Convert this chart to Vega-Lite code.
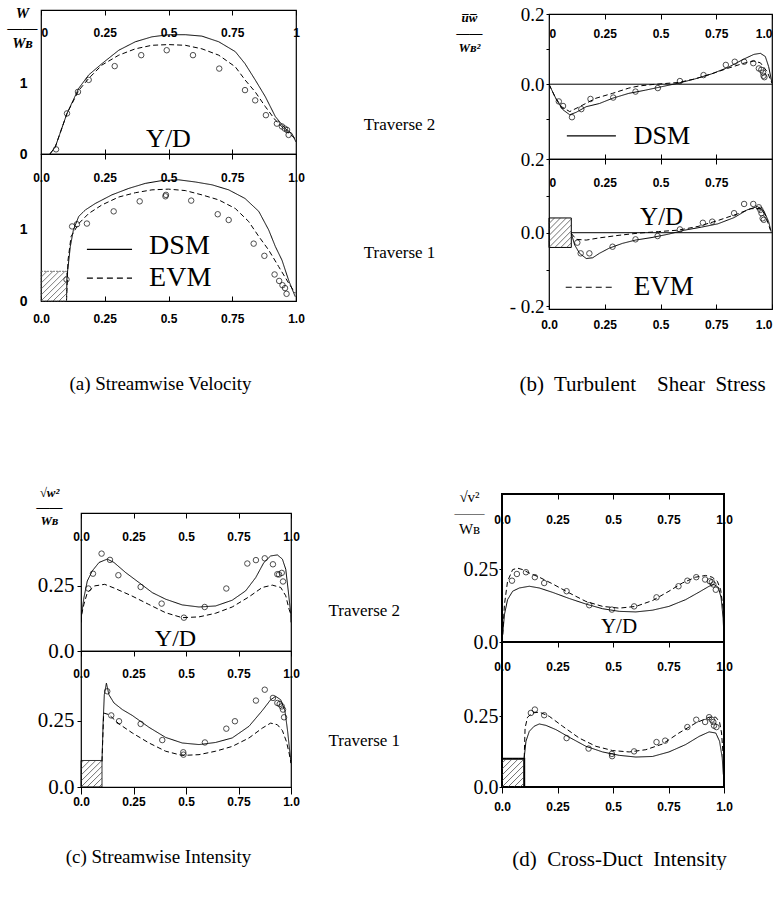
{
"$schema": "https://vega.github.io/schema/vega-lite/v6.json",
"padding": {"left": 5, "top": 4, "right": 0, "bottom": 0},
"background": "white",
"config": {"axis": {"labelColor": "black", "tickColor": "black", "titleColor": "black", "grid": false, "domain": false, "labelFlush": false}},
"datasets": {
"aT": [
{"m":"DSM","x":0.035,"y":0},{"m":"DSM","x":0.056,"y":0.10},{"m":"DSM","x":0.102,"y":0.575},{"m":"DSM","x":0.148,"y":0.93},{"m":"DSM","x":0.187,"y":1.12},{"m":"DSM","x":0.239,"y":1.28},{"m":"DSM","x":0.305,"y":1.47},{"m":"DSM","x":0.37,"y":1.59},{"m":"DSM","x":0.435,"y":1.66},{"m":"DSM","x":0.50,"y":1.69},{"m":"DSM","x":0.566,"y":1.69},{"m":"DSM","x":0.631,"y":1.67},{"m":"DSM","x":0.697,"y":1.59},{"m":"DSM","x":0.762,"y":1.45},{"m":"DSM","x":0.80,"y":1.28},{"m":"DSM","x":0.84,"y":1.05},{"m":"DSM","x":0.88,"y":0.81},{"m":"DSM","x":0.919,"y":0.53},{"m":"DSM","x":0.958,"y":0.36},{"m":"DSM","x":0.984,"y":0.29},{"m":"DSM","x":1.0,"y":0.17},
{"m":"EVM","x":0.035,"y":0},{"m":"EVM","x":0.056,"y":0.10},{"m":"EVM","x":0.102,"y":0.575},{"m":"EVM","x":0.148,"y":0.90},{"m":"EVM","x":0.187,"y":1.07},{"m":"EVM","x":0.239,"y":1.26},{"m":"EVM","x":0.305,"y":1.40},{"m":"EVM","x":0.37,"y":1.49},{"m":"EVM","x":0.435,"y":1.54},{"m":"EVM","x":0.50,"y":1.55},{"m":"EVM","x":0.566,"y":1.54},{"m":"EVM","x":0.631,"y":1.49},{"m":"EVM","x":0.697,"y":1.40},{"m":"EVM","x":0.762,"y":1.235},{"m":"EVM","x":0.80,"y":1.05},{"m":"EVM","x":0.84,"y":0.88},{"m":"EVM","x":0.88,"y":0.67},{"m":"EVM","x":0.919,"y":0.48},{"m":"EVM","x":0.958,"y":0.34},{"m":"EVM","x":0.996,"y":0.22},
{"m":"EXP","x":0.059,"y":0.066},{"m":"EXP","x":0.102,"y":0.575},{"m":"EXP","x":0.145,"y":0.88},{"m":"EXP","x":0.187,"y":1.05},{"m":"EXP","x":0.289,"y":1.245},{"m":"EXP","x":0.393,"y":1.40},{"m":"EXP","x":0.493,"y":1.47},{"m":"EXP","x":0.596,"y":1.40},{"m":"EXP","x":0.699,"y":1.21},{"m":"EXP","x":0.80,"y":0.905},{"m":"EXP","x":0.84,"y":0.76},{"m":"EXP","x":0.882,"y":0.55},{"m":"EXP","x":0.925,"y":0.43},{"m":"EXP","x":0.945,"y":0.39},{"m":"EXP","x":0.956,"y":0.36},{"m":"EXP","x":0.965,"y":0.34},{"m":"EXP","x":0.971,"y":0.27}
],
"aB": [
{"m":"DSM","x":0.10,"y":0},{"m":"DSM","x":0.102,"y":0.34},{"m":"DSM","x":0.115,"y":0.76},{"m":"DSM","x":0.127,"y":0.99},{"m":"DSM","x":0.148,"y":1.18},{"m":"DSM","x":0.174,"y":1.27},{"m":"DSM","x":0.213,"y":1.36},{"m":"DSM","x":0.278,"y":1.48},{"m":"DSM","x":0.344,"y":1.57},{"m":"DSM","x":0.409,"y":1.64},{"m":"DSM","x":0.475,"y":1.68},{"m":"DSM","x":0.54,"y":1.69},{"m":"DSM","x":0.605,"y":1.66},{"m":"DSM","x":0.671,"y":1.62},{"m":"DSM","x":0.736,"y":1.55},{"m":"DSM","x":0.80,"y":1.43},{"m":"DSM","x":0.854,"y":1.25},{"m":"DSM","x":0.893,"y":0.99},{"m":"DSM","x":0.919,"y":0.76},{"m":"DSM","x":0.945,"y":0.57},{"m":"DSM","x":0.971,"y":0.29},{"m":"DSM","x":0.997,"y":0.06},
{"m":"EVM","x":0.10,"y":0},{"m":"EVM","x":0.106,"y":0.57},{"m":"EVM","x":0.118,"y":0.90},{"m":"EVM","x":0.148,"y":1.08},{"m":"EVM","x":0.187,"y":1.22},{"m":"EVM","x":0.239,"y":1.34},{"m":"EVM","x":0.305,"y":1.45},{"m":"EVM","x":0.37,"y":1.51},{"m":"EVM","x":0.435,"y":1.55},{"m":"EVM","x":0.50,"y":1.56},{"m":"EVM","x":0.566,"y":1.54},{"m":"EVM","x":0.631,"y":1.48},{"m":"EVM","x":0.697,"y":1.41},{"m":"EVM","x":0.762,"y":1.29},{"m":"EVM","x":0.814,"y":1.11},{"m":"EVM","x":0.854,"y":0.90},{"m":"EVM","x":0.893,"y":0.71},{"m":"EVM","x":0.932,"y":0.48},{"m":"EVM","x":0.971,"y":0.25},{"m":"EVM","x":0.997,"y":0.11},
{"m":"EXP","x":0.1,"y":0.3},{"m":"EXP","x":0.122,"y":1.04},{"m":"EXP","x":0.141,"y":1.07},{"m":"EXP","x":0.18,"y":1.08},{"m":"EXP","x":0.285,"y":1.25},{"m":"EXP","x":0.387,"y":1.39},{"m":"EXP","x":0.488,"y":1.46},{"m":"EXP","x":0.49,"y":1.48},{"m":"EXP","x":0.589,"y":1.40},{"m":"EXP","x":0.693,"y":1.21},{"m":"EXP","x":0.736,"y":1.13},{"m":"EXP","x":0.834,"y":0.80},{"m":"EXP","x":0.876,"y":0.63},{"m":"EXP","x":0.916,"y":0.37},{"m":"EXP","x":0.934,"y":0.28},{"m":"EXP","x":0.947,"y":0.22},{"m":"EXP","x":0.957,"y":0.18},{"m":"EXP","x":0.963,"y":0.10}
],
"bT": [
{"m":"DSM","x":0,"y":0},{"m":"DSM","x":0.034,"y":-0.045},{"m":"DSM","x":0.063,"y":-0.073},{"m":"DSM","x":0.093,"y":-0.087},{"m":"DSM","x":0.122,"y":-0.08},{"m":"DSM","x":0.167,"y":-0.064},{"m":"DSM","x":0.226,"y":-0.055},{"m":"DSM","x":0.285,"y":-0.04},{"m":"DSM","x":0.358,"y":-0.026},{"m":"DSM","x":0.432,"y":-0.017},{"m":"DSM","x":0.506,"y":-0.007},{"m":"DSM","x":0.58,"y":0.003},{"m":"DSM","x":0.654,"y":0.015},{"m":"DSM","x":0.727,"y":0.029},{"m":"DSM","x":0.80,"y":0.047},{"m":"DSM","x":0.875,"y":0.072},{"m":"DSM","x":0.919,"y":0.085},{"m":"DSM","x":0.948,"y":0.088},{"m":"DSM","x":0.97,"y":0.079},{"m":"DSM","x":0.985,"y":0.05},{"m":"DSM","x":1.0,"y":0.003},
{"m":"EVM","x":0,"y":0},{"m":"EVM","x":0.026,"y":-0.035},{"m":"EVM","x":0.056,"y":-0.064},{"m":"EVM","x":0.093,"y":-0.078},{"m":"EVM","x":0.137,"y":-0.064},{"m":"EVM","x":0.21,"y":-0.04},{"m":"EVM","x":0.285,"y":-0.026},{"m":"EVM","x":0.358,"y":-0.011},{"m":"EVM","x":0.403,"y":-0.005},{"m":"EVM","x":0.462,"y":-0.001},{"m":"EVM","x":0.58,"y":0.005},{"m":"EVM","x":0.654,"y":0.015},{"m":"EVM","x":0.727,"y":0.029},{"m":"EVM","x":0.80,"y":0.045},{"m":"EVM","x":0.875,"y":0.06},{"m":"EVM","x":0.919,"y":0.066},{"m":"EVM","x":0.948,"y":0.061},{"m":"EVM","x":0.978,"y":0.036},{"m":"EVM","x":1.0,"y":0.003},
{"m":"EXP","x":0.044,"y":-0.049},{"m":"EXP","x":0.063,"y":-0.062},{"m":"EXP","x":0.103,"y":-0.094},{"m":"EXP","x":0.145,"y":-0.071},{"m":"EXP","x":0.186,"y":-0.042},{"m":"EXP","x":0.288,"y":-0.038},{"m":"EXP","x":0.388,"y":-0.021},{"m":"EXP","x":0.488,"y":-0.011},{"m":"EXP","x":0.587,"y":0.009},{"m":"EXP","x":0.693,"y":0.026},{"m":"EXP","x":0.793,"y":0.055},{"m":"EXP","x":0.833,"y":0.064},{"m":"EXP","x":0.875,"y":0.064},{"m":"EXP","x":0.916,"y":0.06},{"m":"EXP","x":0.941,"y":0.045},{"m":"EXP","x":0.952,"y":0.041},{"m":"EXP","x":0.96,"y":0.033},{"m":"EXP","x":0.962,"y":0.024},{"m":"EXP","x":0.966,"y":0.02}
],
"bB": [
{"m":"DSM","x":0.1,"y":-0.002},{"m":"DSM","x":0.115,"y":-0.033},{"m":"DSM","x":0.137,"y":-0.056},{"m":"DSM","x":0.167,"y":-0.07},{"m":"DSM","x":0.196,"y":-0.068},{"m":"DSM","x":0.226,"y":-0.056},{"m":"DSM","x":0.27,"y":-0.042},{"m":"DSM","x":0.329,"y":-0.029},{"m":"DSM","x":0.388,"y":-0.02},{"m":"DSM","x":0.462,"y":-0.013},{"m":"DSM","x":0.535,"y":-0.004},{"m":"DSM","x":0.609,"y":0.007},{"m":"DSM","x":0.683,"y":0.015},{"m":"DSM","x":0.757,"y":0.024},{"m":"DSM","x":0.83,"y":0.041},{"m":"DSM","x":0.889,"y":0.062},{"m":"DSM","x":0.934,"y":0.071},{"m":"DSM","x":0.963,"y":0.06},{"m":"DSM","x":0.985,"y":0.03},{"m":"DSM","x":0.996,"y":0.003},
{"m":"EVM","x":0.1,"y":-0.002},{"m":"EVM","x":0.122,"y":-0.018},{"m":"EVM","x":0.167,"y":-0.02},{"m":"EVM","x":0.226,"y":-0.014},{"m":"EVM","x":0.314,"y":-0.007},{"m":"EVM","x":0.403,"y":-0.001},{"m":"EVM","x":0.491,"y":0.003},{"m":"EVM","x":0.58,"y":0.007},{"m":"EVM","x":0.668,"y":0.017},{"m":"EVM","x":0.757,"y":0.033},{"m":"EVM","x":0.845,"y":0.051},{"m":"EVM","x":0.904,"y":0.065},{"m":"EVM","x":0.948,"y":0.066},{"m":"EVM","x":0.97,"y":0.048},{"m":"EVM","x":0.993,"y":0.007},
{"m":"EXP","x":0.127,"y":-0.027},{"m":"EXP","x":0.142,"y":-0.056},{"m":"EXP","x":0.181,"y":-0.056},{"m":"EXP","x":0.285,"y":-0.038},{"m":"EXP","x":0.388,"y":-0.018},{"m":"EXP","x":0.487,"y":-0.009},{"m":"EXP","x":0.587,"y":0.009},{"m":"EXP","x":0.69,"y":0.027},{"m":"EXP","x":0.732,"y":0.03},{"m":"EXP","x":0.83,"y":0.053},{"m":"EXP","x":0.875,"y":0.078},{"m":"EXP","x":0.916,"y":0.078},{"m":"EXP","x":0.941,"y":0.069},{"m":"EXP","x":0.948,"y":0.062},{"m":"EXP","x":0.953,"y":0.053},{"m":"EXP","x":0.958,"y":0.039},{"m":"EXP","x":0.963,"y":0.035}
],
"cT": [
{"m":"DSM","x":0,"y":0.11},{"m":"DSM","x":0.003,"y":0.141},{"m":"DSM","x":0.014,"y":0.205},{"m":"DSM","x":0.03,"y":0.269},{"m":"DSM","x":0.054,"y":0.308},{"m":"DSM","x":0.086,"y":0.34},{"m":"DSM","x":0.125,"y":0.353},{"m":"DSM","x":0.157,"y":0.34},{"m":"DSM","x":0.213,"y":0.301},{"m":"DSM","x":0.276,"y":0.263},{"m":"DSM","x":0.34,"y":0.224},{"m":"DSM","x":0.403,"y":0.199},{"m":"DSM","x":0.482,"y":0.177},{"m":"DSM","x":0.562,"y":0.169},{"m":"DSM","x":0.641,"y":0.173},{"m":"DSM","x":0.72,"y":0.195},{"m":"DSM","x":0.784,"y":0.231},{"m":"DSM","x":0.832,"y":0.282},{"m":"DSM","x":0.871,"y":0.34},{"m":"DSM","x":0.903,"y":0.365},{"m":"DSM","x":0.935,"y":0.369},{"m":"DSM","x":0.959,"y":0.353},{"m":"DSM","x":0.975,"y":0.314},{"m":"DSM","x":0.987,"y":0.231},{"m":"DSM","x":0.999,"y":0.141},{"m":"DSM","x":1.0,"y":0.11},
{"m":"EVM","x":0,"y":0.11},{"m":"EVM","x":0.003,"y":0.141},{"m":"EVM","x":0.014,"y":0.18},{"m":"EVM","x":0.03,"y":0.224},{"m":"EVM","x":0.065,"y":0.25},{"m":"EVM","x":0.113,"y":0.256},{"m":"EVM","x":0.16,"y":0.241},{"m":"EVM","x":0.241,"y":0.212},{"m":"EVM","x":0.32,"y":0.18},{"m":"EVM","x":0.403,"y":0.147},{"m":"EVM","x":0.482,"y":0.128},{"m":"EVM","x":0.562,"y":0.131},{"m":"EVM","x":0.641,"y":0.145},{"m":"EVM","x":0.72,"y":0.169},{"m":"EVM","x":0.80,"y":0.208},{"m":"EVM","x":0.863,"y":0.244},{"m":"EVM","x":0.911,"y":0.253},{"m":"EVM","x":0.951,"y":0.244},{"m":"EVM","x":0.975,"y":0.212},{"m":"EVM","x":0.991,"y":0.16},{"m":"EVM","x":0.999,"y":0.141},
{"m":"EXP","x":0.035,"y":0.24},{"m":"EXP","x":0.057,"y":0.297},{"m":"EXP","x":0.098,"y":0.374},{"m":"EXP","x":0.138,"y":0.35},{"m":"EXP","x":0.178,"y":0.291},{"m":"EXP","x":0.284,"y":0.246},{"m":"EXP","x":0.384,"y":0.182},{"m":"EXP","x":0.49,"y":0.128},{"m":"EXP","x":0.589,"y":0.169},{"m":"EXP","x":0.692,"y":0.24},{"m":"EXP","x":0.792,"y":0.336},{"m":"EXP","x":0.833,"y":0.349},{"m":"EXP","x":0.875,"y":0.356},{"m":"EXP","x":0.914,"y":0.333},{"m":"EXP","x":0.935,"y":0.295},{"m":"EXP","x":0.943,"y":0.294},{"m":"EXP","x":0.956,"y":0.3},{"m":"EXP","x":0.962,"y":0.267}
],
"cB": [
{"m":"DSM","x":0.1,"y":0.097},{"m":"DSM","x":0.105,"y":0.235},{"m":"DSM","x":0.111,"y":0.348},{"m":"DSM","x":0.121,"y":0.392},{"m":"DSM","x":0.133,"y":0.348},{"m":"DSM","x":0.157,"y":0.317},{"m":"DSM","x":0.197,"y":0.292},{"m":"DSM","x":0.244,"y":0.27},{"m":"DSM","x":0.324,"y":0.225},{"m":"DSM","x":0.403,"y":0.187},{"m":"DSM","x":0.482,"y":0.166},{"m":"DSM","x":0.562,"y":0.16},{"m":"DSM","x":0.641,"y":0.168},{"m":"DSM","x":0.72,"y":0.185},{"m":"DSM","x":0.80,"y":0.229},{"m":"DSM","x":0.863,"y":0.288},{"m":"DSM","x":0.903,"y":0.329},{"m":"DSM","x":0.927,"y":0.342},{"m":"DSM","x":0.951,"y":0.329},{"m":"DSM","x":0.971,"y":0.288},{"m":"DSM","x":0.984,"y":0.21},{"m":"DSM","x":0.995,"y":0.128},{"m":"DSM","x":1.0,"y":0.09},
{"m":"EVM","x":0.1,"y":0.097},{"m":"EVM","x":0.108,"y":0.279},{"m":"EVM","x":0.133,"y":0.273},{"m":"EVM","x":0.181,"y":0.238},{"m":"EVM","x":0.244,"y":0.204},{"m":"EVM","x":0.324,"y":0.166},{"m":"EVM","x":0.403,"y":0.135},{"m":"EVM","x":0.482,"y":0.119},{"m":"EVM","x":0.562,"y":0.122},{"m":"EVM","x":0.641,"y":0.135},{"m":"EVM","x":0.72,"y":0.153},{"m":"EVM","x":0.80,"y":0.185},{"m":"EVM","x":0.863,"y":0.222},{"m":"EVM","x":0.903,"y":0.241},{"m":"EVM","x":0.935,"y":0.235},{"m":"EVM","x":0.959,"y":0.213},{"m":"EVM","x":0.978,"y":0.172},{"m":"EVM","x":0.991,"y":0.128},{"m":"EVM","x":1.0,"y":0.09},
{"m":"EXP","x":0.125,"y":0.361},{"m":"EXP","x":0.144,"y":0.27},{"m":"EXP","x":0.181,"y":0.248},{"m":"EXP","x":0.284,"y":0.238},{"m":"EXP","x":0.387,"y":0.177},{"m":"EXP","x":0.487,"y":0.131},{"m":"EXP","x":0.488,"y":0.122},{"m":"EXP","x":0.59,"y":0.168},{"m":"EXP","x":0.692,"y":0.22},{"m":"EXP","x":0.733,"y":0.248},{"m":"EXP","x":0.833,"y":0.326},{"m":"EXP","x":0.875,"y":0.367},{"m":"EXP","x":0.914,"y":0.336},{"m":"EXP","x":0.935,"y":0.317},{"m":"EXP","x":0.946,"y":0.313},{"m":"EXP","x":0.956,"y":0.304},{"m":"EXP","x":0.962,"y":0.292},{"m":"EXP","x":0.967,"y":0.263}
],
"dT": [
{"m":"DSM","x":0.003,"y":0.025},{"m":"DSM","x":0.011,"y":0.094},{"m":"DSM","x":0.025,"y":0.145},{"m":"DSM","x":0.048,"y":0.174},{"m":"DSM","x":0.078,"y":0.185},{"m":"DSM","x":0.123,"y":0.191},{"m":"DSM","x":0.168,"y":0.185},{"m":"DSM","x":0.228,"y":0.17},{"m":"DSM","x":0.303,"y":0.149},{"m":"DSM","x":0.378,"y":0.13},{"m":"DSM","x":0.453,"y":0.114},{"m":"DSM","x":0.528,"y":0.105},{"m":"DSM","x":0.603,"y":0.103},{"m":"DSM","x":0.678,"y":0.109},{"m":"DSM","x":0.752,"y":0.122},{"m":"DSM","x":0.827,"y":0.145},{"m":"DSM","x":0.888,"y":0.171},{"m":"DSM","x":0.933,"y":0.191},{"m":"DSM","x":0.955,"y":0.197},{"m":"DSM","x":0.975,"y":0.187},{"m":"DSM","x":0.987,"y":0.151},{"m":"DSM","x":0.996,"y":0.082},{"m":"DSM","x":1.0,"y":0.014},
{"m":"EVM","x":0.003,"y":0.025},{"m":"EVM","x":0.011,"y":0.128},{"m":"EVM","x":0.025,"y":0.208},{"m":"EVM","x":0.048,"y":0.248},{"m":"EVM","x":0.07,"y":0.253},{"m":"EVM","x":0.093,"y":0.248},{"m":"EVM","x":0.123,"y":0.236},{"m":"EVM","x":0.168,"y":0.222},{"m":"EVM","x":0.228,"y":0.199},{"m":"EVM","x":0.303,"y":0.168},{"m":"EVM","x":0.378,"y":0.139},{"m":"EVM","x":0.453,"y":0.122},{"m":"EVM","x":0.528,"y":0.116},{"m":"EVM","x":0.603,"y":0.122},{"m":"EVM","x":0.678,"y":0.142},{"m":"EVM","x":0.752,"y":0.174},{"m":"EVM","x":0.812,"y":0.202},{"m":"EVM","x":0.872,"y":0.222},{"m":"EVM","x":0.917,"y":0.228},{"m":"EVM","x":0.947,"y":0.222},{"m":"EVM","x":0.97,"y":0.208},{"m":"EVM","x":0.985,"y":0.179},{"m":"EVM","x":0.996,"y":0.116},{"m":"EVM","x":1.0,"y":0.037},
{"m":"EXP","x":0.045,"y":0.21},{"m":"EXP","x":0.067,"y":0.233},{"m":"EXP","x":0.108,"y":0.239},{"m":"EXP","x":0.148,"y":0.222},{"m":"EXP","x":0.19,"y":0.202},{"m":"EXP","x":0.291,"y":0.174},{"m":"EXP","x":0.393,"y":0.126},{"m":"EXP","x":0.495,"y":0.111},{"m":"EXP","x":0.595,"y":0.122},{"m":"EXP","x":0.696,"y":0.153},{"m":"EXP","x":0.795,"y":0.191},{"m":"EXP","x":0.835,"y":0.21},{"m":"EXP","x":0.875,"y":0.222},{"m":"EXP","x":0.915,"y":0.214},{"m":"EXP","x":0.936,"y":0.208},{"m":"EXP","x":0.945,"y":0.205},{"m":"EXP","x":0.952,"y":0.197},{"m":"EXP","x":0.963,"y":0.179}
],
"dB": [
{"m":"DSM","x":0.1,"y":0.103},{"m":"DSM","x":0.108,"y":0.162},{"m":"DSM","x":0.123,"y":0.197},{"m":"DSM","x":0.145,"y":0.215},{"m":"DSM","x":0.168,"y":0.223},{"m":"DSM","x":0.198,"y":0.218},{"m":"DSM","x":0.243,"y":0.203},{"m":"DSM","x":0.303,"y":0.176},{"m":"DSM","x":0.378,"y":0.144},{"m":"DSM","x":0.453,"y":0.124},{"m":"DSM","x":0.528,"y":0.112},{"m":"DSM","x":0.603,"y":0.106},{"m":"DSM","x":0.678,"y":0.108},{"m":"DSM","x":0.752,"y":0.124},{"m":"DSM","x":0.827,"y":0.15},{"m":"DSM","x":0.888,"y":0.179},{"m":"DSM","x":0.933,"y":0.195},{"m":"DSM","x":0.963,"y":0.191},{"m":"DSM","x":0.98,"y":0.162},{"m":"DSM","x":0.992,"y":0.103},{"m":"DSM","x":0.997,"y":0.044},
{"m":"EVM","x":0.1,"y":0.103},{"m":"EVM","x":0.104,"y":0.209},{"m":"EVM","x":0.115,"y":0.247},{"m":"EVM","x":0.138,"y":0.262},{"m":"EVM","x":0.168,"y":0.265},{"m":"EVM","x":0.213,"y":0.25},{"m":"EVM","x":0.273,"y":0.215},{"m":"EVM","x":0.348,"y":0.173},{"m":"EVM","x":0.423,"y":0.144},{"m":"EVM","x":0.498,"y":0.129},{"m":"EVM","x":0.573,"y":0.124},{"m":"EVM","x":0.648,"y":0.132},{"m":"EVM","x":0.723,"y":0.152},{"m":"EVM","x":0.797,"y":0.191},{"m":"EVM","x":0.872,"y":0.226},{"m":"EVM","x":0.933,"y":0.247},{"m":"EVM","x":0.963,"y":0.247},{"m":"EVM","x":0.98,"y":0.23},{"m":"EVM","x":0.989,"y":0.191},{"m":"EVM","x":0.997,"y":0.103},
{"m":"EXP","x":0.13,"y":0.262},{"m":"EXP","x":0.148,"y":0.274},{"m":"EXP","x":0.19,"y":0.254},{"m":"EXP","x":0.291,"y":0.173},{"m":"EXP","x":0.39,"y":0.136},{"m":"EXP","x":0.495,"y":0.117},{"m":"EXP","x":0.496,"y":0.109},{"m":"EXP","x":0.595,"y":0.126},{"m":"EXP","x":0.696,"y":0.159},{"m":"EXP","x":0.735,"y":0.164},{"m":"EXP","x":0.835,"y":0.212},{"m":"EXP","x":0.875,"y":0.238},{"m":"EXP","x":0.915,"y":0.23},{"m":"EXP","x":0.933,"y":0.247},{"m":"EXP","x":0.945,"y":0.238},{"m":"EXP","x":0.952,"y":0.23},{"m":"EXP","x":0.955,"y":0.217},{"m":"EXP","x":0.966,"y":0.212}
],
"hA": [{"x":0.0706,"y":0,"x2":0.1,"y2":0.1036},{"x":0.047,"y":0,"x2":0.1,"y2":0.186},{"x":0.0235,"y":0,"x2":0.1,"y2":0.269},{"x":0,"y":0,"x2":0.1,"y2":0.352},{"x":0,"y":0.083,"x2":0.094,"y2":0.414},{"x":0,"y":0.166,"x2":0.0706,"y2":0.414},{"x":0,"y":0.249,"x2":0.047,"y2":0.414},{"x":0,"y":0.331,"x2":0.0235,"y2":0.414}],
"hB": [{"x":0.0796,"y":-0.04,"x2":0.1,"y2":-0.0276},{"x":0.0531,"y":-0.04,"x2":0.1,"y2":-0.0114},{"x":0.0265,"y":-0.04,"x2":0.1,"y2":0.0049},{"x":0,"y":-0.04,"x2":0.1,"y2":0.0211},{"x":0,"y":-0.0238,"x2":0.1,"y2":0.0373},{"x":0,"y":-0.0076,"x2":0.0779,"y2":0.04},{"x":0,"y":0.0086,"x2":0.0513,"y2":0.04},{"x":0,"y":0.0249,"x2":0.0248,"y2":0.04}],
"hC": [{"x":0.0857,"y":0,"x2":0.1,"y2":0.0112},{"x":0.0571,"y":0,"x2":0.1,"y2":0.0336},{"x":0.0286,"y":0,"x2":0.1,"y2":0.056},{"x":0,"y":0,"x2":0.1,"y2":0.0784},{"x":0,"y":0.0224,"x2":0.099,"y2":0.1},{"x":0,"y":0.0448,"x2":0.0705,"y2":0.1},{"x":0,"y":0.0672,"x2":0.0419,"y2":0.1},{"x":0,"y":0.0896,"x2":0.0133,"y2":0.1}],
"hD": [{"x":0.0811,"y":0,"x2":0.1,"y2":0.0148},{"x":0.054,"y":0,"x2":0.1,"y2":0.0359},{"x":0.027,"y":0,"x2":0.1,"y2":0.057},{"x":0,"y":0,"x2":0.1,"y2":0.0782},{"x":0,"y":0.0211,"x2":0.1,"y2":0.0993},{"x":0,"y":0.0423,"x2":0.0739,"y2":0.1},{"x":0,"y":0.0634,"x2":0.0468,"y2":0.1},{"x":0,"y":0.0845,"x2":0.0198,"y2":0.1}]
},
"vconcat": [
{"hconcat": [
 {"width": 1, "height": 1, "view": {"stroke": null}, "data": {"values": []}, "mark": "point"},
 {"vconcat": [
  {"width": 255, "height": 144, "view": {"stroke": "black", "strokeWidth": 1.2}, "data": {"name": "aT"},
   "layer": [
    {"transform": [{"filter": "datum.m != 'EXP'"}], "mark": {"type": "line", "color": "black", "strokeWidth": 1, "clip": true},
     "encoding": {
      "x": {"field": "x", "type": "quantitative", "scale": {"domain": [0, 1], "nice": false, "zero": false},
            "axis": {"orient": "top", "values": [0, 0.25, 0.5, 0.75, 1], "labelExpr": "datum.value==0?'0':datum.value==0.25?'0.25':datum.value==0.5?'0.5':datum.value==0.75?'0.75':'1'", "tickSize": -5, "labelPadding": -24, "labelFont": "Liberation Sans", "labelFontWeight": "bold", "labelFontSize": 12, "title": null,
                     "labelAlign": {"condition": {"test": "datum.value == 0", "value": "left"}, "value": "center"}}},
      "y": {"field": "y", "type": "quantitative", "scale": {"domain": [0, 2.04], "nice": false, "zero": false},
            "axis": {"values": [0, 1], "labelExpr": "datum.value==0?'0':'1'", "ticks": false, "labelPadding": 14, "labelFont": "Liberation Sans", "labelFontWeight": "bold", "labelFontSize": 14,
                     "title": ["W", "——", "Wʙ"], "titleAngle": 0, "titleAlign": "center", "titleBaseline": "top", "titleX": -19, "titleY": -5, "titleFont": "Liberation Serif", "titleFontStyle": "italic", "titleFontWeight": "bold", "titleFontSize": 15, "titleLineHeight": 15}},
      "detail": {"field": "m"},
      "strokeDash": {"field": "m", "type": "nominal", "scale": {"domain": ["DSM", "EVM"], "range": [[1, 0], [5, 3]]}, "legend": null}}},
    {"transform": [{"filter": "datum.m == 'EXP'"}], "mark": {"type": "point", "shape": "circle", "filled": false, "color": "black", "strokeWidth": 1, "size": 30},
     "encoding": {
      "x": {"field": "x", "type": "quantitative", "axis": {"orient": "bottom", "values": [0.25, 0.5, 0.75], "tickSize": -5, "labels": false, "title": null}},
      "y": {"field": "y", "type": "quantitative", "axis": null}}},
    {"data": {"values": [{}]}, "mark": {"type": "text", "text": "Y/D", "font": "Liberation Serif", "fontSize": 26, "align": "center", "baseline": "middle"},
     "encoding": {"x": {"datum": 0.5, "axis": null}, "y": {"datum": 0.21, "axis": null}}}
   ],
   "resolve": {"axis": {"x": "independent", "y": "independent"}}},
  {"width": 255, "height": 147, "view": {"stroke": "black", "strokeWidth": 1.2}, "data": {"name": "aB"},
   "layer": [
    {"transform": [{"filter": "datum.m != 'EXP'"}], "mark": {"type": "line", "color": "black", "strokeWidth": 1, "clip": true},
     "encoding": {
      "x": {"field": "x", "type": "quantitative", "scale": {"domain": [0, 1], "nice": false, "zero": false},
            "axis": {"orient": "top", "values": [0, 0.25, 0.5, 0.75, 1], "labelExpr": "datum.value==0?'0.0':datum.value==0.25?'0.25':datum.value==0.5?'0.5':datum.value==0.75?'0.75':'1.0'", "tickSize": -5, "labelPadding": -25, "labelFont": "Liberation Sans", "labelFontWeight": "bold", "labelFontSize": 12, "title": null}},
      "y": {"field": "y", "type": "quantitative", "scale": {"domain": [0, 2.05], "nice": false, "zero": false},
            "axis": {"values": [0, 1], "labelExpr": "datum.value==0?'0':'1'", "ticks": false, "labelPadding": 14, "labelFont": "Liberation Sans", "labelFontWeight": "bold", "labelFontSize": 14, "title": null}},
      "detail": {"field": "m"},
      "strokeDash": {"field": "m", "type": "nominal", "scale": {"domain": ["DSM", "EVM"], "range": [[1, 0], [5, 3]]}, "legend": null}}},
    {"transform": [{"filter": "datum.m == 'EXP'"}], "mark": {"type": "point", "shape": "circle", "filled": false, "color": "black", "strokeWidth": 1, "size": 30},
     "encoding": {
      "x": {"field": "x", "type": "quantitative", "axis": {"orient": "bottom", "values": [0, 0.25, 0.5, 0.75, 1], "labelExpr": "datum.value==0?'0.0':datum.value==0.25?'0.25':datum.value==0.5?'0.5':datum.value==0.75?'0.75':'1.0'", "tickSize": -5, "labelPadding": 17, "labelFont": "Liberation Sans", "labelFontWeight": "bold", "labelFontSize": 12,
                     "title": "(a) Streamwise Velocity", "titleFont": "Liberation Serif", "titleFontWeight": "normal", "titleFontSize": 19, "titlePadding": 50, "titleX": 119}},
      "y": {"field": "y", "type": "quantitative", "axis": null}}},
    {"data": {"values": [{}]}, "mark": {"type": "rect", "fillOpacity": 0, "stroke": "#555555", "strokeWidth": 0.8, "strokeDash": [2, 1]},
     "encoding": {"x": {"datum": 0, "axis": null}, "x2": {"datum": 0.1}, "y": {"datum": 0, "axis": null}, "y2": {"datum": 0.414}}},
    {"data": {"name": "hA"}, "mark": {"type": "rule", "color": "#444444", "strokeWidth": 0.7},
     "encoding": {"x": {"field": "x", "type": "quantitative", "axis": null}, "y": {"field": "y", "type": "quantitative", "axis": null}, "x2": {"field": "x2"}, "y2": {"field": "y2"}}},
    {"data": {"values": [{}]}, "mark": {"type": "rule", "color": "black", "strokeWidth": 1.2},
     "encoding": {"x": {"datum": 0.18, "axis": null}, "x2": {"datum": 0.357}, "y": {"datum": 0.72, "axis": null}}},
    {"data": {"values": [{}]}, "mark": {"type": "rule", "color": "black", "strokeWidth": 1.2, "strokeDash": [6, 4]},
     "encoding": {"x": {"datum": 0.18, "axis": null}, "x2": {"datum": 0.357}, "y": {"datum": 0.32, "axis": null}}},
    {"data": {"values": [{}]}, "mark": {"type": "text", "text": "DSM", "font": "Liberation Serif", "fontSize": 28, "align": "left", "baseline": "middle"},
     "encoding": {"x": {"datum": 0.424, "axis": null}, "y": {"datum": 0.767, "axis": null}}},
    {"data": {"values": [{}]}, "mark": {"type": "text", "text": "EVM", "font": "Liberation Serif", "fontSize": 28, "align": "left", "baseline": "middle"},
     "encoding": {"x": {"datum": 0.424, "axis": null}, "y": {"datum": 0.32, "axis": null}}}
   ],
   "resolve": {"axis": {"x": "independent", "y": "independent"}}}
 ], "spacing": 0, "bounds": "flush"},
 {"width": 150, "height": 299, "view": {"stroke": null}, "data": {"values": [{}]},
  "layer": [
   {"mark": {"type": "text", "text": "Traverse 2", "font": "Liberation Serif", "fontSize": 17, "align": "center", "baseline": "middle"},
    "encoding": {"x": {"datum": 0.63, "type": "quantitative", "scale": {"domain": [0, 1]}, "axis": null}, "y": {"datum": 0.615, "type": "quantitative", "scale": {"domain": [0, 1]}, "axis": null}}},
   {"mark": {"type": "text", "text": "Traverse 1", "font": "Liberation Serif", "fontSize": 17, "align": "center", "baseline": "middle"},
    "encoding": {"x": {"datum": 0.63, "type": "quantitative", "axis": null}, "y": {"datum": 0.187, "type": "quantitative", "axis": null}}}
  ]},
 {"vconcat": [
  {"width": 1, "height": 4, "view": {"stroke": null}, "data": {"values": []}, "mark": "point"},
  {"width": 223, "height": 145, "view": {"stroke": "black", "strokeWidth": 1.2}, "data": {"name": "bT"},
   "layer": [
    {"transform": [{"filter": "datum.m != 'EXP'"}], "mark": {"type": "line", "color": "black", "strokeWidth": 1, "clip": true},
     "encoding": {
      "x": {"field": "x", "type": "quantitative", "scale": {"domain": [0, 1], "nice": false, "zero": false},
            "axis": {"orient": "top", "values": [0, 0.25, 0.5, 0.75, 1], "labelExpr": "datum.value==0?'0':datum.value==0.25?'0.25':datum.value==0.5?'0.5':datum.value==0.75?'0.75':'1.0'", "tickSize": -5, "labelPadding": -21, "labelFont": "Liberation Sans", "labelFontWeight": "bold", "labelFontSize": 12, "title": null,
                     "labelAlign": {"condition": [{"test": "datum.value == 0", "value": "left"}, {"test": "datum.value == 1", "value": "right"}], "value": "center"}}},
      "y": {"field": "y", "type": "quantitative", "scale": {"domain": [-0.213, 0.2], "nice": false, "zero": false},
            "axis": {"values": [-0.1, 0, 0.1, 0.2], "labelExpr": "datum.value==0.2?'0.2':datum.value==0?'0.0':''", "tickSize": 3, "labelPadding": 2, "labelFont": "Liberation Serif", "labelFontSize": 19,
                     "title": ["u̅w̅", "——", "Wʙ²"], "titleAngle": 0, "titleAlign": "center", "titleBaseline": "top", "titleX": -80, "titleY": -3, "titleFont": "Liberation Serif", "titleFontStyle": "italic", "titleFontWeight": "bold", "titleFontSize": 13, "titleLineHeight": 15}},
      "detail": {"field": "m"},
      "strokeDash": {"field": "m", "type": "nominal", "scale": {"domain": ["DSM", "EVM"], "range": [[1, 0], [5, 3]]}, "legend": null}}},
    {"transform": [{"filter": "datum.m == 'EXP'"}], "mark": {"type": "point", "shape": "circle", "filled": false, "color": "black", "strokeWidth": 1, "size": 30},
     "encoding": {
      "x": {"field": "x", "type": "quantitative", "axis": {"orient": "bottom", "values": [0.25, 0.5, 0.75], "tickSize": -5, "labels": false, "title": null}},
      "y": {"field": "y", "type": "quantitative", "axis": null}}},
    {"data": {"values": [{}]}, "mark": {"type": "rule", "color": "black", "strokeWidth": 1},
     "encoding": {"x": {"datum": 0, "axis": null}, "x2": {"datum": 1}, "y": {"datum": 0, "axis": null}}},
    {"data": {"values": [{}]}, "mark": {"type": "rule", "color": "black", "strokeWidth": 1.2},
     "encoding": {"x": {"datum": 0.08, "axis": null}, "x2": {"datum": 0.3}, "y": {"datum": -0.147, "axis": null}}},
    {"data": {"values": [{}]}, "mark": {"type": "text", "text": "DSM", "font": "Liberation Serif", "fontSize": 26, "align": "left", "baseline": "middle"},
     "encoding": {"x": {"datum": 0.38, "axis": null}, "y": {"datum": -0.147, "axis": null}}}
   ],
   "resolve": {"axis": {"x": "independent", "y": "independent"}}},
  {"width": 223, "height": 150, "view": {"stroke": "black", "strokeWidth": 1.2}, "data": {"name": "bB"},
   "layer": [
    {"transform": [{"filter": "datum.m != 'EXP'"}], "mark": {"type": "line", "color": "black", "strokeWidth": 1, "clip": true},
     "encoding": {
      "x": {"field": "x", "type": "quantitative", "scale": {"domain": [0, 1], "nice": false, "zero": false},
            "axis": {"orient": "top", "values": [0, 0.25, 0.5, 0.75], "labelExpr": "datum.value==0?'0':datum.value==0.25?'0.25':datum.value==0.5?'0.5':'0.75'", "tickSize": -5, "labelPadding": -25, "labelFont": "Liberation Sans", "labelFontWeight": "bold", "labelFontSize": 12, "title": null,
                     "labelAlign": {"condition": {"test": "datum.value == 0", "value": "left"}, "value": "center"}}},
      "y": {"field": "y", "type": "quantitative", "scale": {"domain": [-0.207, 0.2], "nice": false, "zero": false},
            "axis": {"values": [-0.2, -0.1, 0, 0.1, 0.2], "labelExpr": "datum.value==0.2?'0.2':datum.value==0?'0.0':datum.value==-0.2?'- 0.2':''", "tickSize": 3, "labelPadding": 2, "labelFont": "Liberation Serif", "labelFontSize": 19, "title": null}},
      "detail": {"field": "m"},
      "strokeDash": {"field": "m", "type": "nominal", "scale": {"domain": ["DSM", "EVM"], "range": [[1, 0], [5, 3]]}, "legend": null}}},
    {"transform": [{"filter": "datum.m == 'EXP'"}], "mark": {"type": "point", "shape": "circle", "filled": false, "color": "black", "strokeWidth": 1, "size": 30},
     "encoding": {
      "x": {"field": "x", "type": "quantitative", "axis": {"orient": "bottom", "values": [0, 0.25, 0.5, 0.75, 1], "labelExpr": "datum.value==0?'0.0':datum.value==0.25?'0.25':datum.value==0.5?'0.5':datum.value==0.75?'0.75':'1.0'", "tickSize": -5, "labelPadding": 15, "labelFont": "Liberation Sans", "labelFontWeight": "bold", "labelFontSize": 12,
                     "labelAlign": {"condition": {"test": "datum.value == 1", "value": "right"}, "value": "center"},
                     "title": "(b)\u00a0 Turbulent\u00a0\u00a0\u00a0 Shear\u00a0 Stress", "titleFont": "Liberation Serif", "titleFontWeight": "normal", "titleFontSize": 21, "titlePadding": 43, "titleX": 93}},
      "y": {"field": "y", "type": "quantitative", "axis": null}}},
    {"data": {"values": [{}]}, "mark": {"type": "rule", "color": "black", "strokeWidth": 1},
     "encoding": {"x": {"datum": 0.1, "axis": null}, "x2": {"datum": 1}, "y": {"datum": 0, "axis": null}}},
    {"data": {"values": [{}]}, "mark": {"type": "rect", "fillOpacity": 0, "stroke": "black", "strokeWidth": 1},
     "encoding": {"x": {"datum": 0, "axis": null}, "x2": {"datum": 0.1}, "y": {"datum": -0.04, "axis": null}, "y2": {"datum": 0.04}}},
    {"data": {"name": "hB"}, "mark": {"type": "rule", "color": "#333333", "strokeWidth": 0.7},
     "encoding": {"x": {"field": "x", "type": "quantitative", "axis": null}, "y": {"field": "y", "type": "quantitative", "axis": null}, "x2": {"field": "x2"}, "y2": {"field": "y2"}}},
    {"data": {"values": [{}]}, "mark": {"type": "rule", "color": "black", "strokeWidth": 1.2, "strokeDash": [6, 4]},
     "encoding": {"x": {"datum": 0.075, "axis": null}, "x2": {"datum": 0.29}, "y": {"datum": -0.148, "axis": null}}},
    {"data": {"values": [{}]}, "mark": {"type": "text", "text": "EVM", "font": "Liberation Serif", "fontSize": 27, "align": "left", "baseline": "middle"},
     "encoding": {"x": {"datum": 0.38, "axis": null}, "y": {"datum": -0.148, "axis": null}}},
    {"data": {"values": [{}]}, "mark": {"type": "text", "text": "Y/D", "font": "Liberation Serif", "fontSize": 25, "align": "center", "baseline": "middle"},
     "encoding": {"x": {"datum": 0.505, "axis": null}, "y": {"datum": 0.043, "axis": null}}}
   ],
   "resolve": {"axis": {"x": "independent", "y": "independent"}}}
 ], "spacing": 0, "bounds": "flush"}
], "spacing": 0},
{"hconcat": [
 {"width": 30, "height": 10, "view": {"stroke": null}, "data": {"values": []}, "mark": "point"},
 {"vconcat": [
  {"width": 1, "height": 19, "view": {"stroke": null}, "data": {"values": []}, "mark": "point"},
  {"width": 210, "height": 138, "view": {"stroke": "black", "strokeWidth": 1.2}, "data": {"name": "cT"},
   "layer": [
    {"transform": [{"filter": "datum.m != 'EXP'"}], "mark": {"type": "line", "color": "black", "strokeWidth": 1, "clip": true},
     "encoding": {
      "x": {"field": "x", "type": "quantitative", "scale": {"domain": [0, 1], "nice": false, "zero": false},
            "axis": {"orient": "top", "values": [0, 0.25, 0.5, 0.75, 1], "labelExpr": "datum.value==0?'0.0':datum.value==0.25?'0.25':datum.value==0.5?'0.5':datum.value==0.75?'0.75':'1.0'", "tickSize": -5, "labelPadding": -25, "labelFont": "Liberation Sans", "labelFontWeight": "bold", "labelFontSize": 12, "title": null}},
      "y": {"field": "y", "type": "quantitative", "scale": {"domain": [0, 0.53], "nice": false, "zero": false},
            "axis": {"values": [0, 0.25], "labelExpr": "datum.value==0?'0.0':'0.25'", "tickSize": 4, "labelPadding": 3, "labelFont": "Liberation Serif", "labelFontSize": 21,
                     "title": ["√w²", "——", "Wʙ"], "titleAngle": 0, "titleAlign": "center", "titleBaseline": "top", "titleX": -32, "titleY": -27, "titleFont": "Liberation Serif", "titleFontStyle": "italic", "titleFontWeight": "bold", "titleFontSize": 13, "titleLineHeight": 14}},
      "detail": {"field": "m"},
      "strokeDash": {"field": "m", "type": "nominal", "scale": {"domain": ["DSM", "EVM"], "range": [[1, 0], [5, 3]]}, "legend": null}}},
    {"transform": [{"filter": "datum.m == 'EXP'"}], "mark": {"type": "point", "shape": "circle", "filled": false, "color": "black", "strokeWidth": 1, "size": 30},
     "encoding": {
      "x": {"field": "x", "type": "quantitative", "axis": null},
      "y": {"field": "y", "type": "quantitative", "axis": null}}},
    {"data": {"values": [{}]}, "mark": {"type": "text", "text": "Y/D", "font": "Liberation Serif", "fontSize": 24, "align": "center", "baseline": "middle"},
     "encoding": {"x": {"datum": 0.45, "axis": null}, "y": {"datum": 0.046, "axis": null}}}
   ],
   "resolve": {"axis": {"x": "independent", "y": "independent"}}},
  {"width": 210, "height": 136, "view": {"stroke": "black", "strokeWidth": 1.2}, "data": {"name": "cB"},
   "layer": [
    {"transform": [{"filter": "datum.m != 'EXP'"}], "mark": {"type": "line", "color": "black", "strokeWidth": 1, "clip": true},
     "encoding": {
      "x": {"field": "x", "type": "quantitative", "scale": {"domain": [0, 1], "nice": false, "zero": false},
            "axis": {"orient": "top", "values": [0, 0.25, 0.5, 0.75, 1], "labelExpr": "datum.value==0?'0.0':datum.value==0.25?'0.25':datum.value==0.5?'0.5':datum.value==0.75?'0.75':'1.0'", "tickSize": -5, "labelPadding": -24, "labelFont": "Liberation Sans", "labelFontWeight": "bold", "labelFontSize": 12, "title": null}},
      "y": {"field": "y", "type": "quantitative", "scale": {"domain": [0, 0.513], "nice": false, "zero": false},
            "axis": {"values": [0, 0.25], "labelExpr": "datum.value==0?'0.0':'0.25'", "tickSize": 4, "labelPadding": 3, "labelFont": "Liberation Serif", "labelFontSize": 21, "title": null}},
      "detail": {"field": "m"},
      "strokeDash": {"field": "m", "type": "nominal", "scale": {"domain": ["DSM", "EVM"], "range": [[1, 0], [5, 3]]}, "legend": null}}},
    {"transform": [{"filter": "datum.m == 'EXP'"}], "mark": {"type": "point", "shape": "circle", "filled": false, "color": "black", "strokeWidth": 1, "size": 30},
     "encoding": {
      "x": {"field": "x", "type": "quantitative", "axis": {"orient": "bottom", "values": [0, 0.25, 0.5, 0.75, 1], "labelExpr": "datum.value==0?'0.0':datum.value==0.25?'0.25':datum.value==0.5?'0.5':datum.value==0.75?'0.75':'1.0'", "tickSize": 7, "labelPadding": 2, "labelFont": "Liberation Sans", "labelFontWeight": "bold", "labelFontSize": 12,
                     "title": "(c) Streamwise Intensity", "titleFont": "Liberation Serif", "titleFontWeight": "normal", "titleFontSize": 19, "titlePadding": 40, "titleX": 77}},
      "y": {"field": "y", "type": "quantitative", "axis": null}}},
    {"data": {"values": [{}]}, "mark": {"type": "rect", "fillOpacity": 0, "stroke": "black", "strokeWidth": 0.8},
     "encoding": {"x": {"datum": 0, "axis": null}, "x2": {"datum": 0.1}, "y": {"datum": 0, "axis": null}, "y2": {"datum": 0.1}}},
    {"data": {"name": "hC"}, "mark": {"type": "rule", "color": "#333333", "strokeWidth": 0.7},
     "encoding": {"x": {"field": "x", "type": "quantitative", "axis": null}, "y": {"field": "y", "type": "quantitative", "axis": null}, "x2": {"field": "x2"}, "y2": {"field": "y2"}}}
   ],
   "resolve": {"axis": {"x": "independent", "y": "independent"}}}
 ], "spacing": 0, "bounds": "flush"},
 {"width": 153, "height": 293, "view": {"stroke": null}, "data": {"values": [{}]},
  "layer": [
   {"mark": {"type": "text", "text": "Traverse 2", "font": "Liberation Serif", "fontSize": 17, "align": "center", "baseline": "middle"},
    "encoding": {"x": {"datum": 0.42, "type": "quantitative", "scale": {"domain": [0, 1]}, "axis": null}, "y": {"datum": 0.6, "type": "quantitative", "scale": {"domain": [0, 1]}, "axis": null}}},
   {"mark": {"type": "text", "text": "Traverse 1", "font": "Liberation Serif", "fontSize": 17, "align": "center", "baseline": "middle"},
    "encoding": {"x": {"datum": 0.42, "type": "quantitative", "axis": null}, "y": {"datum": 0.157, "type": "quantitative", "axis": null}}}
  ]},
 {"vconcat": [
  {"width": 222, "height": 148, "view": {"stroke": "black", "strokeWidth": 2}, "data": {"name": "dT"},
   "layer": [
    {"transform": [{"filter": "datum.m != 'EXP'"}], "mark": {"type": "line", "color": "black", "strokeWidth": 1, "clip": true},
     "encoding": {
      "x": {"field": "x", "type": "quantitative", "scale": {"domain": [0, 1], "nice": false, "zero": false},
            "axis": {"orient": "top", "values": [0, 0.25, 0.5, 0.75, 1], "labelExpr": "datum.value==0?'0.0':datum.value==0.25?'0.25':datum.value==0.5?'0.5':datum.value==0.75?'0.75':'1.0'", "tickSize": -5, "labelPadding": -27, "labelFont": "Liberation Sans", "labelFontWeight": "bold", "labelFontSize": 12, "title": null}},
      "y": {"field": "y", "type": "quantitative", "scale": {"domain": [0, 0.507], "nice": false, "zero": false},
            "axis": {"values": [0, 0.25], "labelExpr": "datum.value==0?'0.0':'0.25'", "tickSize": 3, "labelPadding": 1, "labelFont": "Liberation Serif", "labelFontSize": 20,
                     "title": ["√v²", "——", "Wʙ"], "titleAngle": 0, "titleAlign": "center", "titleBaseline": "top", "titleX": -33, "titleY": -5, "titleFont": "Liberation Serif", "titleFontSize": 15, "titleFontWeight": "normal", "titleLineHeight": 16}},
      "detail": {"field": "m"},
      "strokeDash": {"field": "m", "type": "nominal", "scale": {"domain": ["DSM", "EVM"], "range": [[1, 0], [5, 3]]}, "legend": null}}},
    {"transform": [{"filter": "datum.m == 'EXP'"}], "mark": {"type": "point", "shape": "circle", "filled": false, "color": "black", "strokeWidth": 1, "size": 30},
     "encoding": {
      "x": {"field": "x", "type": "quantitative", "axis": null},
      "y": {"field": "y", "type": "quantitative", "axis": null}}},
    {"data": {"values": [{}]}, "mark": {"type": "text", "text": "Y/D", "font": "Liberation Serif", "fontSize": 21, "align": "center", "baseline": "middle"},
     "encoding": {"x": {"datum": 0.527, "axis": null}, "y": {"datum": 0.051, "axis": null}}}
   ],
   "resolve": {"axis": {"x": "independent", "y": "independent"}}},
  {"width": 222, "height": 145, "view": {"stroke": "black", "strokeWidth": 2}, "data": {"name": "dB"},
   "layer": [
    {"transform": [{"filter": "datum.m != 'EXP'"}], "mark": {"type": "line", "color": "black", "strokeWidth": 1, "clip": true},
     "encoding": {
      "x": {"field": "x", "type": "quantitative", "scale": {"domain": [0, 1], "nice": false, "zero": false},
            "axis": {"orient": "top", "values": [0, 0.25, 0.5, 0.75, 1], "labelExpr": "datum.value==0?'0.0':datum.value==0.25?'0.25':datum.value==0.5?'0.5':datum.value==0.75?'0.75':'1.0'", "tickSize": -5, "labelPadding": -26, "labelFont": "Liberation Sans", "labelFontWeight": "bold", "labelFontSize": 12, "title": null}},
      "y": {"field": "y", "type": "quantitative", "scale": {"domain": [0, 0.513], "nice": false, "zero": false},
            "axis": {"values": [0, 0.25], "labelExpr": "datum.value==0?'0.0':'0.25'", "tickSize": 3, "labelPadding": 1, "labelFont": "Liberation Serif", "labelFontSize": 20, "title": null}},
      "detail": {"field": "m"},
      "strokeDash": {"field": "m", "type": "nominal", "scale": {"domain": ["DSM", "EVM"], "range": [[1, 0], [5, 3]]}, "legend": null}}},
    {"transform": [{"filter": "datum.m == 'EXP'"}], "mark": {"type": "point", "shape": "circle", "filled": false, "color": "black", "strokeWidth": 1, "size": 30},
     "encoding": {
      "x": {"field": "x", "type": "quantitative", "axis": {"orient": "bottom", "values": [0, 0.25, 0.5, 0.75, 1], "labelExpr": "datum.value==0?'0.0':datum.value==0.25?'0.25':datum.value==0.5?'0.5':datum.value==0.75?'0.75':'1.0'", "tickSize": 6, "labelPadding": 8, "labelFont": "Liberation Sans", "labelFontWeight": "bold", "labelFontSize": 12,
                     "title": "(d)\u00a0 Cross-Duct\u00a0 Intensity", "titleFont": "Liberation Serif", "titleFontWeight": "normal", "titleFontSize": 21, "titlePadding": 36, "titleX": 117}},
      "y": {"field": "y", "type": "quantitative", "axis": null}}},
    {"data": {"values": [{}]}, "mark": {"type": "rect", "fillOpacity": 0, "stroke": "black", "strokeWidth": 2},
     "encoding": {"x": {"datum": 0, "axis": null}, "x2": {"datum": 0.1}, "y": {"datum": 0, "axis": null}, "y2": {"datum": 0.1}}},
    {"data": {"name": "hD"}, "mark": {"type": "rule", "color": "#333333", "strokeWidth": 0.7},
     "encoding": {"x": {"field": "x", "type": "quantitative", "axis": null}, "y": {"field": "y", "type": "quantitative", "axis": null}, "x2": {"field": "x2"}, "y2": {"field": "y2"}}}
   ],
   "resolve": {"axis": {"x": "independent", "y": "independent"}}}
 ], "spacing": 0, "bounds": "flush"}
], "spacing": 0}
],
"spacing": 90
}
